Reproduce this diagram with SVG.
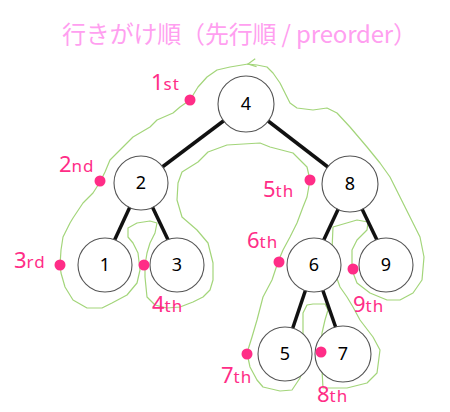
<svg xmlns="http://www.w3.org/2000/svg" width="450" height="412" viewBox="0 0 450 412">
<defs>
<style>
.title{font-family:"Noto Sans CJK JP","Noto Sans",sans-serif;font-size:24px;fill:#ff9ff0;}
.node circle{fill:#fff;stroke:#555;stroke-width:1.1;}
.node text{font-family:"Noto Sans","DejaVu Sans",sans-serif;font-size:18px;fill:#000;text-anchor:middle;}
.edge{stroke:#111;stroke-width:3.5;stroke-linecap:butt;}
.trail{fill:none;stroke:#a3d57a;stroke-width:1.2;stroke-linejoin:round;stroke-linecap:round;}
.dot{fill:#ff2d87;}
.lbl{font-family:"Noto Sans","DejaVu Sans",sans-serif;fill:#ff2d87;font-size:22px;}
.lbl tspan{font-size:17px;letter-spacing:1px;}
</style>
<marker id="chev" viewBox="0 0 10 10" refX="9" refY="5" markerWidth="10" markerHeight="10" orient="auto" markerUnits="userSpaceOnUse">
<path d="M1,1 L9,5 L1,9" fill="none" stroke="#a3d57a" stroke-width="1.2"/>
</marker>
</defs>
<rect width="450" height="412" fill="#fff"/>
<text class="title" x="62" y="43" textLength="355" lengthAdjust="spacing">行きがけ順（先行順 / preorder）</text>

<g id="trail">
<path class="trail" marker-start="url(#chev)" d="M248,64 L230,67 L217,70 L207,77 L198,87 L190,100 L180,107 L173,113 L157,120 L150,127 L133,137 L120,150 L110,160 L105,172 L100,182 L93,193 L83,203 L73,218 L70,223 L63,237 L61,250 L60,265 L61,273 L65,287 L73,300 L87,308 L102,308 L112,303 L127,295 L137,283 L140,270 L138,253 L133,243 L128,237 L128,228 L137,223 L150,221 L157,223 L155,233 L150,243 L147,253 L145,265 L145,277 L147,297 L155,305 L167,308 L180,307 L193,302 L203,297 L210,290 L213,280 L213,263 L208,243 L197,230 L182,217 L177,200 L178,183 L182,172 L198,162 L208,152 L227,145 L260,143 L270,147 L293,153 L307,167 L310,180 L307,197 L303,207 L297,223 L290,237 L283,250 L278,262 L272,280 L263,297 L257,320 L252,337 L247,353 L250,367 L257,380 L263,387 L280,391 L292,390 L300,378 L303,367 L303,347 L303,313 L307,305 L313,304 L325,304 L328,310 L325,320 L322,333 L320,352 L322,370 L323,388 L347,388 L367,383 L377,373 L380,350 L373,337 L360,320 L353,307 L347,297 L340,287 L335,273 L332,250 L333,227 L357,220 L368,222 L367,230 L357,240 L352,250 L352,270 L357,283 L370,293 L387,300 L400,300 L413,293 L422,280 L424,257 L420,237 L410,217 L400,197 L390,177 L380,163 L367,147 L350,127 L337,113 L327,108 L313,110 L297,108 L290,103 L285,93 L280,83 L273,73 L267,67 L257,65 L248,64"/>
</g>

<g id="connectors">
<line class="edge" x1="246" y1="104" x2="141" y2="183"/>
<line class="edge" x1="246" y1="104" x2="350" y2="184"/>
<line class="edge" x1="141" y1="183" x2="103" y2="265"/>
<line class="edge" x1="141" y1="183" x2="180" y2="265"/>
<line class="edge" x1="350" y1="184" x2="312" y2="265"/>
<line class="edge" x1="350" y1="184" x2="389" y2="265"/>
<line class="edge" x1="314" y1="265" x2="284" y2="354"/>
<line class="edge" x1="314" y1="265" x2="345" y2="354"/>
</g>

<g id="node-4" class="node"><circle cx="246" cy="104" r="28"/><text x="246" y="110">4</text></g>
<g id="node-2" class="node"><circle cx="141" cy="183" r="27"/><text x="141" y="189">2</text></g>
<g id="node-8" class="node"><circle cx="350" cy="184" r="28"/><text x="350" y="190">8</text></g>
<g id="node-1" class="node"><circle cx="105" cy="265" r="27"/><text x="105" y="271">1</text></g>
<g id="node-3" class="node"><circle cx="177" cy="265" r="27"/><text x="177" y="271">3</text></g>
<g id="node-6" class="node"><circle cx="314" cy="265" r="27"/><text x="314" y="271">6</text></g>
<g id="node-9" class="node"><circle cx="386" cy="265" r="27"/><text x="386" y="271">9</text></g>
<g id="node-5" class="node"><circle cx="285" cy="354" r="27"/><text x="285" y="360">5</text></g>
<g id="node-7" class="node"><circle cx="343" cy="354" r="28"/><text x="343" y="360">7</text></g>

<g id="visits">
<circle class="dot" cx="190" cy="100" r="5.5"/>
<circle class="dot" cx="100" cy="181" r="5.5"/>
<circle class="dot" cx="60" cy="265" r="5.5"/>
<circle class="dot" cx="144" cy="265" r="5.5"/>
<circle class="dot" cx="310" cy="180" r="5.5"/>
<circle class="dot" cx="279" cy="262" r="5.5"/>
<circle class="dot" cx="353" cy="269" r="5.5"/>
<circle class="dot" cx="247" cy="354" r="5.5"/>
<circle class="dot" cx="321" cy="352" r="5.5"/>
<text class="lbl" x="151" y="90">1<tspan>st</tspan></text>
<text class="lbl" x="59" y="172">2<tspan>nd</tspan></text>
<text class="lbl" x="14" y="268">3<tspan>rd</tspan></text>
<text class="lbl" x="152" y="312">4<tspan>th</tspan></text>
<text class="lbl" x="263" y="197">5<tspan>th</tspan></text>
<text class="lbl" x="247" y="248">6<tspan>th</tspan></text>
<text class="lbl" x="353" y="312">9<tspan>th</tspan></text>
<text class="lbl" x="221" y="383">7<tspan>th</tspan></text>
<text class="lbl" x="317" y="402">8<tspan>th</tspan></text>
</g>
</svg>
